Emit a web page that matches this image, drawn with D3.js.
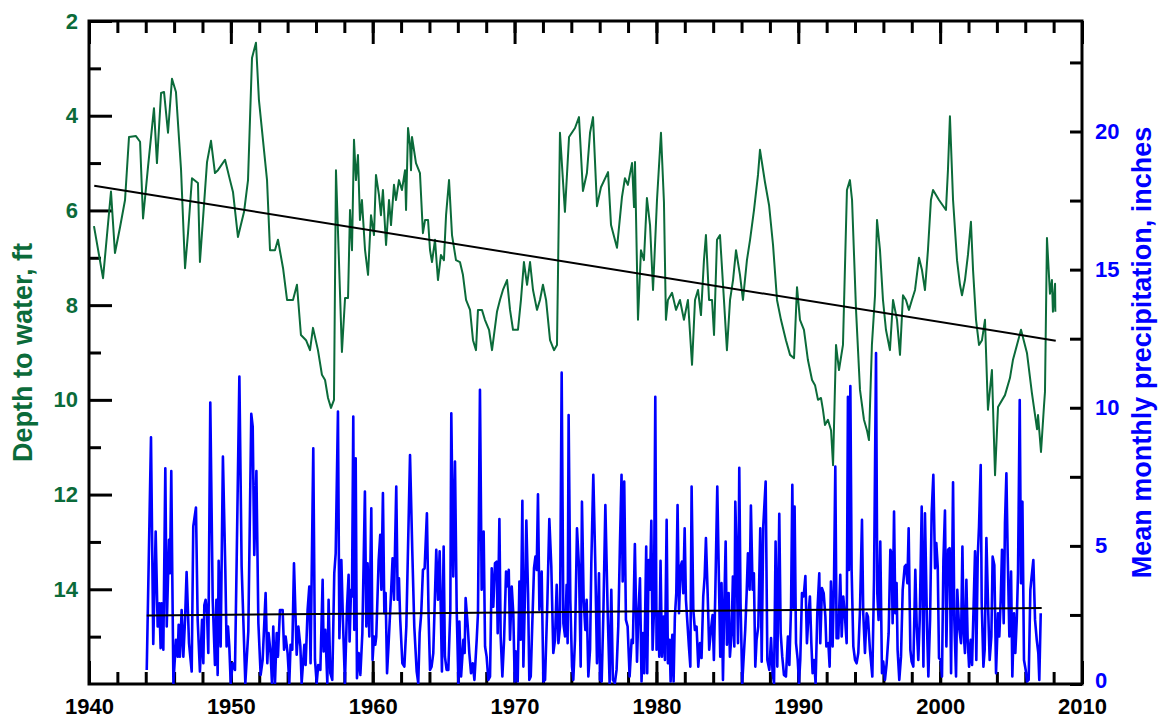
<!DOCTYPE html>
<html>
<head>
<meta charset="utf-8">
<script src="https://cdn.jsdelivr.net/npm/d3@7"></script>
<style>
  body { margin: 0; background: #fff; }
  text { font-family: "Liberation Sans", Arial, sans-serif; font-weight: bold; }
</style>
</head>
<body>
<svg id="chart" width="1158" height="719"></svg>
<script>
// depth to water, ft  [decimal year, depth]
const depthPoints = [
  [1940.35,6.33],[1940.99,7.43],[1941.55,5.60],[1941.83,6.90],[1942.19,6.35],[1942.54,5.78],
  [1942.82,4.45],[1943.31,4.43],[1943.60,4.55],[1943.81,6.17],[1944.16,5.08],[1944.58,3.84],
  [1944.79,5.00],[1945.08,3.52],[1945.29,3.50],[1945.57,4.36],[1945.85,3.22],[1946.13,3.50],
  [1946.49,5.15],[1946.77,7.22],[1946.98,6.48],[1947.26,5.32],[1947.68,5.42],[1947.82,7.09],
  [1948.32,4.98],[1948.60,4.53],[1948.88,5.21],[1949.09,5.15],[1949.59,4.93],[1949.94,5.36],
  [1950.15,5.61],[1950.50,6.56],[1950.93,6.03],[1951.21,5.36],[1951.49,2.78],[1951.77,2.46],
  [1951.98,3.67],[1952.55,5.36],[1952.76,6.84],[1953.11,6.84],[1953.32,6.62],[1953.68,7.22],
  [1953.96,7.89],[1954.38,7.89],[1954.66,7.57],[1954.94,8.63],[1955.30,8.74],[1955.58,8.95],
  [1955.79,8.48],[1956.14,8.95],[1956.42,9.47],[1956.64,9.58],[1956.85,9.96],[1957.06,10.17],
  [1957.27,10.00],[1957.41,5.15],[1957.83,8.99],[1958.05,7.85],[1958.26,7.85],[1958.40,5.99],
  [1958.54,6.84],[1958.68,4.51],[1958.82,5.36],[1958.96,4.83],[1959.10,6.20],[1959.24,5.78],
  [1959.46,6.84],[1959.67,7.36],[1959.88,6.10],[1960.09,6.52],[1960.23,5.25],[1960.44,5.67],
  [1960.58,6.10],[1960.72,5.57],[1960.94,6.73],[1961.15,5.78],[1961.29,6.31],[1961.50,5.46],
  [1961.64,5.78],[1961.85,5.36],[1962.06,5.57],[1962.28,5.15],[1962.35,5.99],[1962.49,4.26],
  [1962.63,4.62],[1962.70,5.15],[1962.77,4.45],[1963.05,5.00],[1963.33,5.21],[1963.54,6.48],
  [1963.69,6.20],[1963.90,6.20],[1964.04,6.84],[1964.18,7.09],[1964.39,6.62],[1964.60,7.47],
  [1964.81,6.94],[1965.02,7.05],[1965.17,6.10],[1965.38,5.36],[1965.59,6.52],[1965.87,7.05],
  [1966.15,7.09],[1966.36,7.36],[1966.58,7.89],[1966.86,8.10],[1967.07,8.74],[1967.28,8.95],
  [1967.42,8.10],[1967.70,8.10],[1967.91,8.31],[1968.20,8.52],[1968.41,8.95],[1968.76,8.14],
  [1968.97,7.89],[1969.18,7.68],[1969.47,7.47],[1969.68,8.10],[1969.89,8.52],[1970.24,8.52],
  [1970.45,7.89],[1970.66,7.09],[1970.88,7.57],[1971.09,7.09],[1971.30,7.68],[1971.58,8.10],
  [1971.79,7.89],[1972.00,7.57],[1972.22,7.89],[1972.50,8.74],[1972.78,8.95],[1972.99,8.84],
  [1973.20,4.36],[1973.55,6.03],[1973.84,4.45],[1974.26,4.26],[1974.54,4.03],[1974.82,5.59],
  [1975.10,5.21],[1975.32,4.36],[1975.53,4.03],[1975.81,5.91],[1976.09,5.51],[1976.59,5.19],
  [1976.80,6.31],[1977.22,6.79],[1977.57,5.72],[1977.78,5.32],[1977.99,5.46],[1978.28,5.00],
  [1978.42,5.93],[1978.49,4.98],[1978.70,8.31],[1978.91,6.84],[1979.12,7.05],[1979.33,5.74],
  [1979.55,6.31],[1979.76,7.68],[1980.04,5.78],[1980.32,4.36],[1980.53,5.82],[1980.67,8.31],
  [1980.81,7.89],[1981.10,7.74],[1981.38,8.10],[1981.66,7.89],[1981.94,8.31],[1982.22,7.89],
  [1982.51,9.26],[1982.72,7.89],[1982.93,7.68],[1983.14,8.21],[1983.35,7.05],[1983.49,6.52],
  [1983.71,7.89],[1983.92,7.89],[1984.06,8.63],[1984.27,6.62],[1984.48,6.52],[1984.76,7.89],
  [1984.97,8.95],[1985.19,7.89],[1985.40,7.47],[1985.61,6.84],[1985.89,7.36],[1986.10,7.89],
  [1986.38,7.05],[1986.60,6.62],[1986.88,5.99],[1987.16,5.25],[1987.30,4.72],[1987.65,5.40],
  [1987.94,5.89],[1988.22,6.73],[1988.50,7.89],[1988.78,8.31],[1989.13,8.74],[1989.42,9.05],
  [1989.70,9.12],[1989.91,7.62],[1990.12,8.31],[1990.40,8.52],[1990.68,9.16],[1990.97,9.58],
  [1991.18,9.69],[1991.39,10.00],[1991.60,9.96],[1991.74,10.21],[1991.88,10.53],[1992.09,10.42],
  [1992.31,10.64],[1992.45,11.38],[1992.66,8.84],[1992.87,9.37],[1993.15,8.84],[1993.43,5.57],
  [1993.64,5.36],[1993.79,5.78],[1994.07,8.10],[1994.35,9.79],[1994.63,10.42],[1994.84,10.64],
  [1994.98,10.85],[1995.19,8.84],[1995.41,7.79],[1995.55,6.20],[1995.76,6.84],[1995.97,7.89],
  [1996.18,8.52],[1996.46,8.95],[1996.68,7.89],[1996.96,8.31],[1997.17,9.05],[1997.38,7.79],
  [1997.59,7.89],[1997.80,8.10],[1998.01,7.89],[1998.23,7.68],[1998.51,7.00],[1998.72,7.26],
  [1998.93,7.68],[1999.14,6.84],[1999.35,5.78],[1999.50,5.57],[1999.92,5.78],[2000.41,5.99],
  [2000.55,5.15],[2000.69,4.01],[2000.91,5.78],[2001.19,7.05],[2001.40,7.57],[2001.54,7.79],
  [2001.75,7.47],[2001.96,6.94],[2002.17,6.24],[2002.32,7.26],[2002.53,8.31],[2002.74,8.84],
  [2002.95,8.74],[2003.16,8.31],[2003.37,10.21],[2003.65,9.37],[2003.87,11.59],[2004.08,10.15],
  [2004.57,9.90],[2004.92,9.54],[2005.13,9.16],[2005.70,8.52],[2006.12,9.01],[2006.47,9.86],
  [2006.83,10.62],[2006.90,10.32],[2007.11,11.10],[2007.32,10.13],[2007.39,9.83],[2007.53,6.58],
  [2007.74,7.76],[2007.88,7.47],[2007.95,8.14],[2008.10,7.55],[2008.12,8.14]
];

// mean monthly precipitation, inches  [decimal year, inches]
const precipPoints = [
  [1944.07,0.51],[1944.37,8.93],[1944.53,1.45],[1944.70,5.52],[1944.84,2.08],[1944.96,2.92],
  [1945.05,1.30],[1945.12,2.92],[1945.24,1.24],[1945.38,7.81],[1945.48,2.08],[1945.64,5.22],
  [1945.71,4.01],[1945.80,7.71],[1945.87,4.01],[1945.95,0.03],[1946.13,1.60],[1946.25,0.99],
  [1946.32,2.14],[1946.41,0.99],[1946.53,2.68],[1946.65,0.99],[1946.77,2.32],[1946.88,4.05],
  [1947.05,1.48],[1947.24,0.45],[1947.35,5.70],[1947.54,6.39],[1947.66,2.32],[1947.82,0.45],
  [1947.97,2.32],[1948.06,0.75],[1948.13,2.86],[1948.22,3.05],[1948.32,2.56],[1948.41,1.12],
  [1948.55,10.19],[1948.72,3.05],[1948.88,0.69],[1948.98,3.05],[1949.07,0.33],[1949.14,4.46],
  [1949.28,1.36],[1949.44,8.23],[1949.61,4.13],[1949.70,1.36],[1949.80,2.08],[1949.89,1.36],
  [1949.99,0.03],[1950.13,0.75],[1950.29,0.51],[1950.41,4.49],[1950.60,11.13],[1950.76,4.25],
  [1951.02,0.03],[1951.23,1.90],[1951.44,9.78],[1951.54,9.32],[1951.65,4.67],[1951.80,7.71],
  [1951.94,2.20],[1952.10,0.33],[1952.24,0.87],[1952.45,3.29],[1952.57,0.75],[1952.66,1.84],
  [1952.80,1.12],[1952.90,0.03],[1952.99,2.08],[1953.11,0.03],[1953.23,1.84],[1953.32,0.99],
  [1953.46,2.68],[1953.65,2.68],[1953.75,1.24],[1953.86,1.72],[1954.00,1.12],[1954.12,0.03],
  [1954.21,1.42],[1954.33,1.24],[1954.45,4.37],
  [1954.64,1.06],[1954.76,2.08],[1954.90,1.36],[1954.99,0.03],[1955.18,1.42],[1955.27,0.69],
  [1955.41,2.68],[1955.53,3.53],[1955.62,0.75],[1955.81,8.53],[1955.93,0.87],[1956.05,0.03],
  [1956.16,0.69],[1956.31,0.51],[1956.47,3.77],[1956.54,1.18],[1956.66,1.96],[1956.80,0.03],
  [1956.89,3.05],[1957.01,0.39],[1957.15,0.15],[1957.29,4.01],[1957.39,4.73],[1957.55,9.86],
  [1957.65,1.66],[1957.79,4.49],[1957.90,2.32],[1958.04,0.03],[1958.19,2.80],[1958.30,3.95],
  [1958.37,1.54],[1958.47,3.41],[1958.54,3.17],[1958.63,9.68],[1958.70,1.96],[1958.80,8.17],
  [1958.89,0.21],[1959.01,1.12],[1959.13,0.33],[1959.27,1.84],[1959.45,6.97],[1959.55,2.08],
  [1959.64,4.37],[1959.76,1.72],[1959.90,6.36],[1959.99,0.87],[1960.09,1.72],[1960.18,1.42],
  [1960.25,1.72],[1960.42,4.49],[1960.53,5.40],[1960.61,3.41],[1960.72,6.91],[1960.82,2.56],
  [1960.91,3.29],[1961.01,0.39],[1961.10,1.24],[1961.26,2.93],[1961.40,4.55],[1961.50,3.05],
  [1961.66,7.15],[1961.76,3.05],[1961.85,3.83],[1961.94,2.32],[1962.09,0.75],[1962.23,0.63],
  [1962.37,2.08],[1962.63,8.29],[1962.79,4.80],[1962.93,2.08],[1963.10,0.45],[1963.21,0.03],
  [1963.31,1.84],[1963.42,2.56],[1963.54,4.13],[1963.66,4.19],[1963.82,6.18],[1963.94,2.44],
  [1964.04,0.51],[1964.15,0.63],[1964.27,1.12],[1964.48,4.86],[1964.60,3.05],[1964.72,4.80],
  [1964.79,2.93],[1964.88,0.45],[1965.00,4.98],[1965.09,0.99],[1965.21,0.51],[1965.33,0.51],
  [1965.47,2.68],[1965.54,9.80],
  [1965.68,3.89],[1965.80,8.05],[1965.92,2.68],[1966.04,0.03],[1966.11,2.26],[1966.23,0.27],
  [1966.32,0.99],[1966.39,1.60],[1966.48,1.12],[1966.55,3.11],[1966.70,2.08],[1966.81,1.12],
  [1966.93,0.39],[1967.05,0.75],[1967.17,0.15],[1967.33,1.60],[1967.42,2.56],[1967.56,10.65],
  [1967.68,3.41],[1967.82,5.52],[1967.92,1.36],[1968.03,0.99],[1968.15,0.15],[1968.27,0.27],
  [1968.39,4.19],[1968.50,2.80],[1968.62,4.37],[1968.74,4.43],[1968.81,1.84],[1968.93,5.97],
  [1969.02,1.72],[1969.14,0.27],[1969.26,1.60],[1969.40,4.07],[1969.47,3.53],[1969.59,4.13],
  [1969.68,1.60],[1969.80,3.53],[1969.91,2.56],[1970.01,0.09],[1970.08,1.18],[1970.22,0.09],
  [1970.34,3.71],[1970.43,1.60],[1970.55,6.63],[1970.62,0.63],[1970.74,3.41],[1970.83,5.92],
  [1970.95,3.29],[1971.04,0.15],[1971.14,0.27],[1971.25,2.20],[1971.37,4.19],[1971.47,4.61],
  [1971.56,4.13],[1971.65,6.87],[1971.75,2.68],[1971.91,4.07],[1972.03,0.09],[1972.15,0.15],
  [1972.31,2.93],[1972.45,5.97],[1972.59,4.25],[1972.73,1.12],[1972.85,1.60],[1972.97,3.59],
  [1973.09,1.48],[1973.20,2.08],[1973.32,11.27],[1973.44,2.20],[1973.56,1.72],[1973.67,3.59],
  [1973.74,1.48],[1973.81,9.74],[1973.93,3.05],[1974.05,0.63],[1974.14,0.15],[1974.26,1.60],
  [1974.40,5.64],[1974.54,4.25],[1974.66,0.63],[1974.75,6.60],[1974.87,3.05],[1974.99,1.96],
  [1975.08,3.05],[1975.20,0.27],[1975.32,1.24],[1975.41,4.37],[1975.55,7.57],[1975.69,4.37],
  [1975.81,0.75],[1975.95,4.01],[1976.02,0.15],[1976.14,0.09],[1976.26,2.56],[1976.40,6.48],
  [1976.56,2.68],[1976.70,0.03],[1976.82,3.41],[1976.93,0.15],[1977.07,0.03],[1977.19,0.51],
  [1977.31,2.08],[1977.43,5.10],[1977.54,7.57],[1977.62,3.71],[1977.73,7.33],[1977.85,2.32],
  [1977.97,2.08],[1978.11,0.27],[1978.25,1.60],[1978.34,1.48],[1978.48,5.07],[1978.63,0.81],
  [1978.72,2.44],[1978.84,3.83],[1978.95,0.09],[1979.05,1.84],[1979.14,0.39],[1979.28,4.98],
  [1979.35,0.39],[1979.45,4.49],[1979.54,3.41],[1979.64,5.91],[1979.73,1.24],[1979.82,2.56],
  [1979.92,10.40],[1980.01,1.24],[1980.13,2.56],[1980.20,0.99],[1980.29,4.46],[1980.39,0.99],
  [1980.51,2.44],[1980.60,0.87],[1980.72,5.94],[1980.81,0.75],[1980.93,1.60],[1981.00,0.09],
  [1981.12,1.78],[1981.21,0.09],[1981.30,2.44],[1981.40,3.29],[1981.49,6.48],[1981.59,2.56],
  [1981.70,4.25],[1981.80,4.43],[1981.89,3.29],[1981.99,5.64],[1982.08,3.05],[1982.20,2.08],
  [1982.29,1.36],[1982.39,0.63],[1982.48,7.15],[1982.60,2.68],[1982.71,1.96],[1982.83,2.08],
  [1982.95,0.63],[1983.07,1.48],[1983.18,0.94],[1983.30,3.17],[1983.40,3.89],[1983.49,5.28],
  [1983.61,3.29],[1983.72,1.24],[1983.84,1.96],[1983.96,2.50],[1984.05,0.87],[1984.15,3.29],
  [1984.29,7.15],[1984.41,3.65],[1984.50,0.99],[1984.59,3.65],[1984.69,0.15],[1984.78,2.80],
  [1984.88,5.16],[1984.97,1.42],[1985.09,3.29],[1985.18,0.99],[1985.30,1.84],[1985.39,3.89],
  [1985.49,1.36],[1985.56,6.60],[1985.65,4.73],[1985.75,1.48],[1985.84,7.83],[1985.93,2.93],
  [1986.05,0.03],[1986.14,0.87],[1986.26,1.96],[1986.36,3.29],[1986.45,4.73],[1986.57,3.41],
  [1986.66,6.46],[1986.78,3.41],[1986.87,4.01],[1986.97,0.63],[1987.06,1.60],[1987.18,2.08],
  [1987.32,5.64],
  [1987.42,0.81],[1987.53,5.70],[1987.70,7.33],[1987.82,0.87],[1987.96,0.51],[1988.08,1.66],
  [1988.19,0.39],[1988.29,0.03],[1988.40,5.16],[1988.52,0.63],[1988.66,6.16],[1988.76,1.84],
  [1988.87,0.99],[1988.99,0.33],[1989.13,0.27],[1989.27,1.72],[1989.37,0.69],[1989.49,2.80],
  [1989.58,7.21],[1989.67,2.74],[1989.74,6.42],[1989.84,1.48],[1989.96,0.87],[1990.05,0.03],
  [1990.14,0.87],[1990.26,3.29],[1990.38,3.17],[1990.50,3.91],[1990.61,1.48],[1990.73,2.56],
  [1990.82,3.17],[1990.92,1.48],[1991.01,0.39],[1991.11,0.87],[1991.22,0.03],[1991.34,2.56],
  [1991.48,4.01],[1991.55,1.48],[1991.67,3.47],[1991.79,3.29],[1991.91,2.44],[1991.98,1.36],
  [1992.12,1.48],[1992.21,0.63],[1992.30,3.71],[1992.42,1.36],[1992.52,3.77],[1992.61,7.87],
  [1992.70,1.66],[1992.82,1.66],[1992.96,3.95],[1993.06,1.72],[1993.17,3.17],[1993.29,2.44],
  [1993.41,1.48],[1993.50,10.40],[1993.57,4.13],[1993.67,10.79],[1993.76,4.13],[1993.88,1.36],
  [1994.00,0.87],[1994.11,0.75],[1994.23,1.12],[1994.35,2.68],[1994.49,5.94],[1994.58,2.56],
  [1994.70,1.12],[1994.82,2.56],[1994.91,2.44],[1995.05,1.24],[1995.22,0.27],[1995.34,3.83],
  [1995.48,11.98],[1995.57,3.29],[1995.66,2.32],[1995.78,5.16],[1995.90,0.39],[1995.99,0.81],
  [1996.11,0.15],[1996.23,0.75],[1996.37,1.84],[1996.49,4.86],[1996.58,4.73],[1996.65,2.20],
  [1996.75,6.24],[1996.84,2.56],[1996.93,3.65],[1997.00,1.24],[1997.12,0.15],[1997.24,0.99],
  [1997.36,3.41],[1997.50,4.25],[1997.59,4.31],[1997.69,3.65],[1997.78,5.64],[1997.90,1.24],
  [1997.99,0.81],[1998.11,0.63],[1998.25,4.13],
  [1998.35,2.08],[1998.46,0.87],[1998.56,2.32],[1998.70,6.42],[1998.82,0.63],[1998.93,6.18],
  [1999.08,1.96],[1999.17,0.27],[1999.29,2.32],[1999.40,6.18],[1999.52,7.57],[1999.64,4.19],
  [1999.73,5.10],[1999.83,4.25],[1999.92,0.94],[2000.04,0.87],[2000.13,0.27],[2000.23,4.49],
  [2000.34,6.28],[2000.44,1.36],[2000.56,4.86],[2000.67,4.92],[2000.77,0.39],[2000.91,7.30],
  [2001.00,2.32],[2001.12,0.27],[2001.21,3.41],[2001.33,2.08],[2001.47,1.48],[2001.57,4.98],
  [2001.66,1.84],[2001.75,1.12],[2001.85,3.77],[2001.94,1.60],[2002.04,0.63],[2002.15,1.60],
  [2002.25,0.69],[2002.37,3.05],[2002.46,4.80],[2002.55,0.87],[2002.65,4.61],[2002.74,5.70],
  [2002.86,7.93],[2002.93,2.93],[2003.05,0.63],[2003.14,1.24],[2003.26,5.28],[2003.38,2.80],
  [2003.49,0.87],[2003.61,1.72],[2003.70,4.61],[2003.82,4.31],[2003.94,0.39],[2004.08,2.56],
  [2004.17,1.72],[2004.27,3.05],[2004.36,4.86],[2004.48,2.20],[2004.57,5.82],[2004.67,7.63],
  [2004.76,4.73],[2004.88,1.72],[2005.00,4.07],[2005.09,0.27],[2005.21,2.56],[2005.30,1.12],
  [2005.40,2.32],[2005.49,4.01],[2005.61,10.28],[2005.70,3.65],[2005.80,6.60],[2005.91,0.87],
  [2006.03,0.51],[2006.12,0.09],[2006.24,0.15],[2006.36,3.41],[2006.45,3.89],[2006.57,4.49],
  [2006.69,2.32],[2006.81,1.60],[2006.92,1.12],[2006.99,0.15],[2007.09,2.56]
];

// linear trend lines, as drawn
const depthTrend = [[1940.37,5.48],[2008.15,8.75]];
const precipTrend = [[1944.07,2.48],[2007.16,2.75]];

const yearTicks = [1940,1950,1960,1970,1980,1990,2000,2010];
const depthTicks = [2,4,6,8,10,12,14];
const precipTicks = [0,5,10,15,20];

const svg = d3.select("#chart");
const W = 1158, H = 719;
const m = {left: 89, top: 21, right: 1082, bottom: 684};
const green = "#0b6b3a", blue = "#0000ff";

const x = d3.scaleLinear().domain([1940, 2010]).range([m.left, m.right]);
const yD = d3.scaleLinear().domain([2, 16]).range([m.top, m.bottom]);
const yP = d3.scaleLinear().domain([0, 24]).range([m.bottom, m.top]);

svg.append("rect").attr("width", W).attr("height", H).attr("fill", "#fff");

svg.append("clipPath").attr("id", "plotclip")
  .append("rect")
  .attr("x", m.left).attr("y", m.top)
  .attr("width", m.right - m.left).attr("height", m.bottom - m.top);

function styleAxis(g, color) {
  g.select(".domain").remove();
  g.selectAll(".tick line").attr("stroke", "#000").attr("stroke-width", 3);
  g.selectAll(".tick text").attr("fill", color).style("font-size", "22px");
}

// bottom axis
svg.append("g").attr("transform", `translate(0,${m.bottom})`)
  .call(d3.axisBottom(x).tickValues(d3.range(1940, 2011, 2)).tickSize(-12).tickFormat(""))
  .call(g => styleAxis(g, "#000"));
svg.append("g").attr("transform", `translate(0,${m.bottom})`)
  .call(d3.axisBottom(x).tickValues(yearTicks).tickSize(-23).tickPadding(14).tickFormat(d3.format("d")))
  .call(g => styleAxis(g, "#000"));

// top axis
svg.append("g").attr("transform", `translate(0,${m.top})`)
  .call(d3.axisTop(x).tickValues(d3.range(1940, 2011, 2)).tickSize(-12).tickFormat(""))
  .call(g => styleAxis(g, "#000"));
svg.append("g").attr("transform", `translate(0,${m.top})`)
  .call(d3.axisTop(x).tickValues(yearTicks).tickSize(-23).tickFormat(""))
  .call(g => styleAxis(g, "#000"));

// left axis (depth)
svg.append("g").attr("transform", `translate(${m.left},0)`)
  .call(d3.axisLeft(yD).tickValues(d3.range(3, 16, 2)).tickSize(-12).tickFormat(""))
  .call(g => styleAxis(g, green));
svg.append("g").attr("transform", `translate(${m.left},0)`)
  .call(d3.axisLeft(yD).tickValues(depthTicks).tickSize(-23).tickPadding(11).tickFormat(d3.format("d")))
  .call(g => styleAxis(g, green));

// right axis (precip)
svg.append("g").attr("transform", `translate(${m.right},0)`)
  .call(d3.axisRight(yP).tickValues(d3.range(2.5, 24, 5)).tickSize(-12).tickFormat(""))
  .call(g => styleAxis(g, blue));
svg.append("g").attr("transform", `translate(${m.right},0)`)
  .call(d3.axisRight(yP).tickValues(precipTicks).tickSize(-12).tickPadding(13).tickFormat(d3.format("d")))
  .call(g => styleAxis(g, blue))
  .call(g => g.selectAll(".tick text").filter(d => d === 0).attr("dy", "0.18em"));

// frame
svg.append("rect")
  .attr("x", m.left).attr("y", m.top)
  .attr("width", m.right - m.left).attr("height", m.bottom - m.top)
  .attr("fill", "none").attr("stroke", "#000").attr("stroke-width", 3);

const plot = svg.append("g").attr("clip-path", "url(#plotclip)");

const depthLine = d3.line().x(d => x(d[0])).y(d => yD(d[1]));
const precipLine = d3.line().x(d => x(d[0])).y(d => yP(d[1]));

plot.append("path").datum(depthPoints)
  .attr("d", depthLine).attr("fill", "none")
  .attr("stroke", green).attr("stroke-width", 2).attr("stroke-linejoin", "round");

plot.append("path").datum(precipPoints)
  .attr("d", precipLine).attr("fill", "none")
  .attr("stroke", blue).attr("stroke-width", 2.6).attr("stroke-linejoin", "round");

plot.append("path").datum(depthTrend)
  .attr("d", depthLine).attr("fill", "none")
  .attr("stroke", "#000").attr("stroke-width", 2);
plot.append("path").datum(precipTrend)
  .attr("d", precipLine).attr("fill", "none")
  .attr("stroke", "#000").attr("stroke-width", 2);

// axis titles
const midY = (m.top + m.bottom) / 2;
svg.append("text")
  .attr("transform", `translate(32,${midY}) rotate(-90)`)
  .attr("text-anchor", "middle")
  .attr("fill", green).style("font-size", "27px")
  .text("Depth to water, ft");

svg.append("text")
  .attr("transform", `translate(1151,${midY}) rotate(-90)`)
  .attr("text-anchor", "middle")
  .attr("fill", blue).style("font-size", "27px")
  .text("Mean monthly precipitation, inches");
</script>
</body>
</html>
